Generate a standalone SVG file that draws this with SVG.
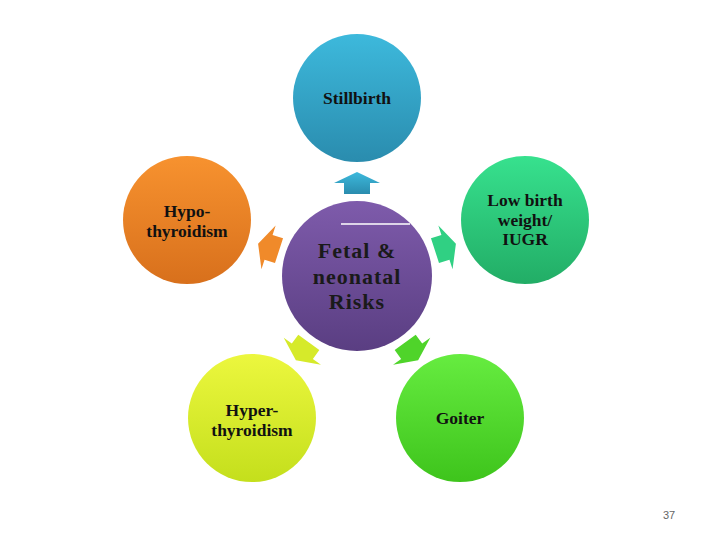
<svg xmlns="http://www.w3.org/2000/svg" width="720" height="540" viewBox="0 0 720 540">
<defs>
<linearGradient id="gBlue" x1="0" y1="0" x2="0" y2="1"><stop offset="0" stop-color="#3db9dc"/><stop offset="1" stop-color="#2a8cae"/></linearGradient>
<linearGradient id="gOrange" x1="0" y1="0" x2="0" y2="1"><stop offset="0" stop-color="#f7922f"/><stop offset="1" stop-color="#d8701c"/></linearGradient>
<linearGradient id="gTeal" x1="0" y1="0" x2="0" y2="1"><stop offset="0" stop-color="#37e18e"/><stop offset="1" stop-color="#22ad66"/></linearGradient>
<linearGradient id="gYellow" x1="0" y1="0" x2="0" y2="1"><stop offset="0" stop-color="#ecf73e"/><stop offset="1" stop-color="#c4df1c"/></linearGradient>
<linearGradient id="gGreen" x1="0" y1="0" x2="0" y2="1"><stop offset="0" stop-color="#66ec40"/><stop offset="1" stop-color="#3ec41c"/></linearGradient>
<linearGradient id="gPurple" x1="0" y1="0" x2="0" y2="1"><stop offset="0" stop-color="#7e5bab"/><stop offset="1" stop-color="#5a3e82"/></linearGradient>
<path id="arrow" d="M0,-11 L23,0 L13,0 L13,11 L-13,11 L-13,0 L-23,0 Z"/>
</defs>
<style>
.lbl{font-family:"Liberation Serif","Times New Roman",serif;font-weight:bold;font-size:17.5px;fill:#111;text-anchor:middle}
.big{font-family:"Liberation Serif","Times New Roman",serif;font-weight:bold;font-size:22px;fill:#1a1a1a;text-anchor:middle;letter-spacing:1px}
.pg{font-family:"Liberation Sans",Arial,sans-serif;font-size:11px;fill:#666}
</style>
<rect width="720" height="540" fill="#fff"/>
<g id="connectors">
<g transform="translate(357,276)">
<use href="#arrow" transform="rotate(0) translate(0,-93)" fill="url(#gBlue)"/>
<use href="#arrow" transform="rotate(-72) translate(0,-93)" fill="#f08a2a"/>
<use href="#arrow" transform="rotate(72) translate(0,-93)" fill="#30d083"/>
<use href="#arrow" transform="rotate(-144) translate(0,-93)" fill="#d6ea2a"/>
<use href="#arrow" transform="rotate(144) translate(0,-93)" fill="#4fd42a"/>
</g>
</g>
<g id="center">
<circle cx="357" cy="276" r="75" fill="url(#gPurple)"/>
<line x1="341" y1="224" x2="410" y2="224" stroke="#fff" stroke-width="1.5"/>
<text class="big" x="357" y="258">Fetal &amp;</text>
<text class="big" x="357" y="284">neonatal</text>
<text class="big" x="357" y="309">Risks</text>
</g>
<g id="stillbirth">
<circle cx="357" cy="98" r="64" fill="url(#gBlue)"/>
<text class="lbl" x="357" y="104">Stillbirth</text>
</g>
<g id="hypothyroidism">
<circle cx="187" cy="220" r="64" fill="url(#gOrange)"/>
<text class="lbl" x="187" y="217">Hypo-</text>
<text class="lbl" x="187" y="237">thyroidism</text>
</g>
<g id="lowbirthweight">
<circle cx="525" cy="220" r="64" fill="url(#gTeal)"/>
<text class="lbl" x="525" y="206">Low birth</text>
<text class="lbl" x="525" y="226">weight/</text>
<text class="lbl" x="525" y="245">IUGR</text>
</g>
<g id="hyperthyroidism">
<circle cx="252" cy="418" r="64" fill="url(#gYellow)"/>
<text class="lbl" x="252" y="416">Hyper-</text>
<text class="lbl" x="252" y="436">thyroidism</text>
</g>
<g id="goiter">
<circle cx="460" cy="418" r="64" fill="url(#gGreen)"/>
<text class="lbl" x="460" y="424">Goiter</text>
</g>
<text class="pg" x="663" y="519">37</text>
</svg>
